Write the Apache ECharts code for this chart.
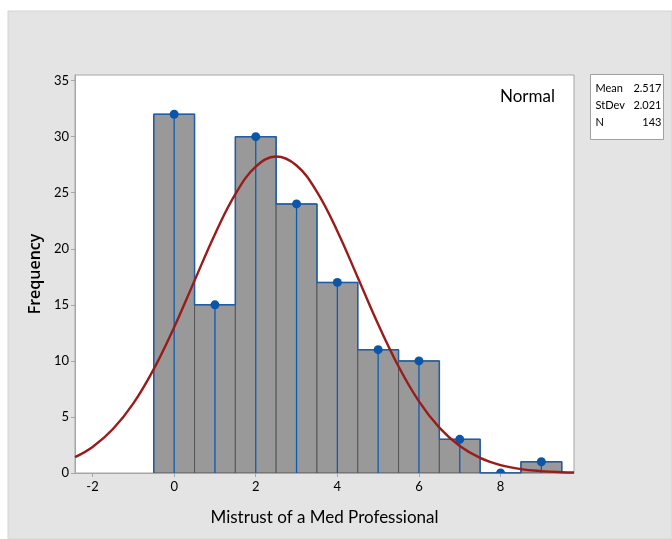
<!DOCTYPE html>
<html><head><meta charset="utf-8">
<script src="https://cdn.jsdelivr.net/npm/echarts@6/dist/echarts.min.js"></script>
<style>html,body{margin:0;padding:0;background:#fff}#c{width:672px;height:539px}</style>
</head><body><div id="c"></div>
<script>
// Histogram data (bin centers, counts)
const binCenters = [0, 1, 2, 3, 4, 5, 6, 7, 8, 9];
const counts = [32, 15, 30, 24, 17, 11, 10, 3, 0, 1];
// Fitted normal curve values read along x
const curveX = [-2.43, -2, -1.5, -1, -0.5, 0, 0.5, 1, 1.5, 2, 2.5, 3, 3.5, 4, 4.5, 5, 5.5, 6, 6.5, 7, 7.5, 8, 8.5, 9, 9.5, 9.8];
const curveY = [1.41, 2.32, 3.92, 6.21, 9.27, 13.00, 17.16, 21.30, 24.87, 27.32, 28.23, 27.43, 25.08, 21.57, 17.44, 13.27, 9.50, 6.39, 4.05, 2.41, 1.35, 0.71, 0.35, 0.17, 0.07, 0.04];
const xTicks = [-2, 0, 2, 4, 6, 8];
const yTicks = [0, 5, 10, 15, 20, 25, 30, 35];
const statLabels = ['Mean', 'StDev', 'N'];
const statValues = ['2.517', '2.021', '143'];

const FONT = 'Lato';
const binData = binCenters.map((c, i) => [c, counts[i]]);
const curveData = curveX.map((x, i) => [x, curveY[i]]);
// outline envelope of histogram
const env = [];
binCenters.forEach((c, i) => {
  env.push([c - 0.5, counts[i]]);
  env.push([c + 0.5, counts[i]]);
});
env.unshift([binCenters[0] - 0.5, 0]);
env.push([binCenters[binCenters.length - 1] + 0.5, 0]);

const chart = echarts.init(document.getElementById('c'), null, {renderer: 'canvas'});
chart.setOption({
  animation: false,
  backgroundColor: '#ffffff',
  graphic: [
    {type: 'rect', z: -10, shape: {x: 8, y: 11, width: 664, height: 528}, style: {fill: '#e4e4e4', stroke: '#d4d4d4', lineWidth: 1}},
    {type: 'group', left: 590, top: 74, children: [
      {type: 'rect', shape: {x: 0, y: 0, width: 73, height: 65}, style: {fill: '#ffffff', stroke: '#a0a0a0', lineWidth: 1}},
      ...statLabels.map((l, i) => ({type: 'text', x: 5, y: 8 + i * 17, style: {text: l, font: '11px ' + FONT, fill: '#000'}})),
      ...statValues.map((v, i) => ({type: 'text', x: 71, y: 8 + i * 17, style: {text: v, font: '11px ' + FONT, fill: '#000', align: 'right'}}))
    ]},
    {type: 'text', left: 500, top: 88, style: {text: 'Normal', font: '17px ' + FONT, fill: '#000'}}
  ],
  grid: {left: 75, top: 75, right: 98, bottom: 66, show: true, backgroundColor: '#ffffff', borderColor: '#a6a6a6', borderWidth: 1},
  xAxis: {
    type: 'value', min: -2.43, max: 9.8,
    name: 'Mistrust of a Med Professional', nameLocation: 'middle', nameGap: 36,
    nameTextStyle: {fontFamily: FONT, fontSize: 17, color: '#000'},
    axisLine: {show: true, onZero: false, lineStyle: {color: '#a6a6a6'}},
    axisTick: {show: true, length: 4, lineStyle: {color: '#a6a6a6'}, customValues: xTicks},
    axisLabel: {fontFamily: FONT, fontSize: 13, color: '#000', margin: 7, customValues: xTicks},
    splitLine: {show: false}
  },
  yAxis: {
    type: 'value', min: 0, max: 35.5,
    name: 'Frequency', nameLocation: 'middle', nameGap: 27,
    nameTextStyle: {fontFamily: 'Open Sans', fontSize: 16, fontWeight: 600, color: '#000'},
    axisLine: {show: true, onZero: false, lineStyle: {color: '#a6a6a6'}},
    axisTick: {show: true, length: 4, lineStyle: {color: '#a6a6a6'}, customValues: yTicks},
    axisLabel: {fontFamily: FONT, fontSize: 13, color: '#000', margin: 6, customValues: yTicks},
    splitLine: {show: false}
  },
  series: [
    {
      type: 'custom', clip: true, z: 2,
      data: binData,
      renderItem: function (params, api) {
        const c = api.value(0), v = api.value(1);
        const p0 = api.coord([c - 0.5, 0]);
        const p1 = api.coord([c + 0.5, v]);
        return {type: 'rect', shape: {x: p0[0], y: p1[1], width: p1[0] - p0[0], height: p0[1] - p1[1]},
          style: {fill: '#999999', stroke: '#555555', lineWidth: 1}};
      }
    },
    {
      type: 'line', data: env, z: 3, showSymbol: false, silent: true,
      lineStyle: {color: '#1f5ea8', width: 1.5}
    },
    {
      type: 'custom', clip: true, z: 4,
      data: binData,
      renderItem: function (params, api) {
        const c = api.value(0), v = api.value(1);
        const b = api.coord([c, 0]);
        const t = api.coord([c, v]);
        return {type: 'group', children: [
          {type: 'line', shape: {x1: b[0], y1: b[1], x2: t[0], y2: t[1]}, style: {stroke: '#0b5cb0', lineWidth: 1.3}},
          {type: 'circle', shape: {cx: t[0], cy: t[1], r: 4.5}, style: {fill: '#0b56a8'}}
        ]};
      }
    },
    {
      type: 'line', data: curveData, smooth: 0.4, z: 5, showSymbol: false, silent: true,
      lineStyle: {color: '#9b1b1b', width: 2.4}
    }
  ]
});
</script></body></html>
